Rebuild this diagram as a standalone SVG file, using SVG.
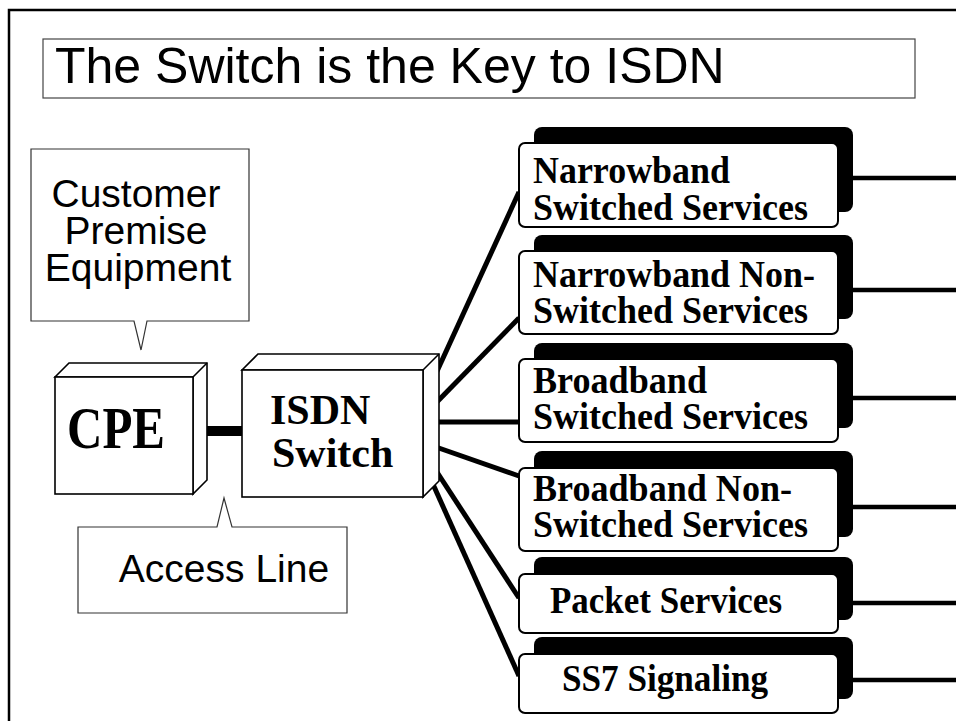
<svg xmlns="http://www.w3.org/2000/svg" width="956" height="721" viewBox="0 0 956 721">
  <style>
    .sans { font-family: "Liberation Sans", Arial, sans-serif; fill: #000; }
    .serif { font-family: "Liberation Serif", "Times New Roman", serif; font-weight: bold; fill: #000; }
    .callout { fill: #fff; stroke: #333; stroke-width: 1.2; }
    .face { fill: #fff; stroke: #000; stroke-width: 1.6; stroke-linejoin: miter; }
    .shadow { fill: #000; }
    .card { fill: #fff; stroke: #000; stroke-width: 2; }
    .svc { font-size: 38px; }
    .link { stroke: #000; stroke-width: 5; fill: none; }
    .feed { stroke: #000; stroke-width: 4.5; fill: none; }
  </style>

  <rect x="0" y="0" width="956" height="721" fill="#fff"/>

  <!-- slide frame (runs off the right and bottom edges) -->
  <rect x="9" y="10" width="1000" height="800" fill="none" stroke="#000" stroke-width="2.5"/>

  <!-- title -->
  <g id="title">
    <rect x="43" y="39" width="872" height="59" fill="#fff" stroke="#444" stroke-width="1.2"/>
    <text class="sans" x="55" y="83" font-size="50">The Switch is the Key to ISDN</text>
  </g>

  <!-- callout: customer premise equipment -->
  <g id="callout-cpe">
    <path class="callout" d="M31,149 H249 V321 H147 L141,350 L134,321 H31 Z"/>
    <text class="sans" x="136" y="207" font-size="39" text-anchor="middle">Customer</text>
    <text class="sans" x="136" y="244" font-size="39" text-anchor="middle">Premise</text>
    <text class="sans" x="138" y="281" font-size="39" text-anchor="middle">Equipment</text>
  </g>

  <!-- callout: access line -->
  <g id="callout-access">
    <path class="callout" d="M78,527 H217 L224,498 L232,527 H347 V613 H78 Z"/>
    <text class="sans" x="224" y="582" font-size="39" text-anchor="middle">Access Line</text>
  </g>

  <!-- connectors -->
  <g id="connectors">
    <!-- access line between CPE and switch -->
    <rect x="203" y="426" width="40" height="10" fill="#000"/>
    <!-- switch to services -->
    <line class="link" x1="433" y1="380" x2="519" y2="192"/>
    <line class="link" x1="433" y1="406" x2="519" y2="318"/>
    <line class="link" x1="433" y1="422" x2="519" y2="422"/>
    <line class="link" x1="433" y1="446" x2="519" y2="476"/>
    <line class="link" x1="433" y1="466" x2="519" y2="598"/>
    <line class="link" x1="432" y1="482" x2="519" y2="676"/>
    <!-- service feeds leaving to the right -->
    <line class="feed" x1="852" y1="178" x2="956" y2="178"/>
    <line class="feed" x1="852" y1="290" x2="956" y2="290"/>
    <line class="feed" x1="852" y1="398" x2="956" y2="398"/>
    <line class="feed" x1="852" y1="507" x2="956" y2="507"/>
    <line class="feed" x1="852" y1="603" x2="956" y2="603"/>
    <line class="feed" x1="852" y1="680" x2="956" y2="680"/>
  </g>

  <!-- CPE block -->
  <g id="cpe">
    <path class="face" d="M55,377 L69,363 H207 V480 L193,494 V377 Z"/>
    <line x1="193" y1="377" x2="207" y2="363" stroke="#000" stroke-width="1.6"/>
    <rect class="face" x="55" y="377" width="138" height="117"/>
    <text class="serif" x="67" y="448" font-size="60" textLength="98" lengthAdjust="spacingAndGlyphs">CPE</text>
  </g>

  <!-- ISDN switch block -->
  <g id="isdn-switch">
    <path class="face" d="M242,370 L258,354 H439 V481 L423,497 V370 Z"/>
    <line x1="423" y1="370" x2="439" y2="354" stroke="#000" stroke-width="1.6"/>
    <rect class="face" x="242" y="370" width="181" height="127"/>
    <text class="serif" x="270" y="424" font-size="42">ISDN</text>
    <text class="serif" x="272" y="467" font-size="42">Switch</text>
  </g>

  <!-- service cards: black backing offset up-right, white card in front -->
  <g id="svc-narrowband-switched">
    <rect class="shadow" x="534" y="127" width="319" height="85" rx="8"/>
    <rect class="card" x="519" y="143" width="319" height="84" rx="6"/>
    <text class="serif svc" x="533" y="183" textLength="197" lengthAdjust="spacingAndGlyphs">Narrowband</text>
    <text class="serif svc" x="533" y="220" textLength="275" lengthAdjust="spacingAndGlyphs">Switched Services</text>
  </g>

  <g id="svc-narrowband-nonswitched">
    <rect class="shadow" x="534" y="235" width="319" height="84" rx="8"/>
    <rect class="card" x="519" y="251" width="319" height="83" rx="6"/>
    <text class="serif svc" x="533" y="287" textLength="282" lengthAdjust="spacingAndGlyphs">Narrowband Non-</text>
    <text class="serif svc" x="533" y="323" textLength="275" lengthAdjust="spacingAndGlyphs">Switched Services</text>
  </g>

  <g id="svc-broadband-switched">
    <rect class="shadow" x="534" y="343" width="319" height="85" rx="8"/>
    <rect class="card" x="519" y="359" width="319" height="83" rx="6"/>
    <text class="serif svc" x="533" y="393" textLength="174" lengthAdjust="spacingAndGlyphs">Broadband</text>
    <text class="serif svc" x="533" y="429" textLength="275" lengthAdjust="spacingAndGlyphs">Switched Services</text>
  </g>

  <g id="svc-broadband-nonswitched">
    <rect class="shadow" x="534" y="451" width="319" height="86" rx="8"/>
    <rect class="card" x="519" y="468" width="319" height="83" rx="6"/>
    <text class="serif svc" x="533" y="501" textLength="259" lengthAdjust="spacingAndGlyphs">Broadband Non-</text>
    <text class="serif svc" x="533" y="537" textLength="275" lengthAdjust="spacingAndGlyphs">Switched Services</text>
  </g>

  <g id="svc-packet">
    <rect class="shadow" x="534" y="557" width="319" height="63" rx="8"/>
    <rect class="card" x="519" y="574" width="319" height="59" rx="6"/>
    <text class="serif svc" x="550" y="613" textLength="232" lengthAdjust="spacingAndGlyphs">Packet Services</text>
  </g>

  <g id="svc-ss7">
    <rect class="shadow" x="534" y="637" width="319" height="62" rx="8"/>
    <rect class="card" x="519" y="654" width="319" height="59" rx="6"/>
    <text class="serif svc" x="562" y="691" textLength="206" lengthAdjust="spacingAndGlyphs">SS7 Signaling</text>
  </g>
</svg>
